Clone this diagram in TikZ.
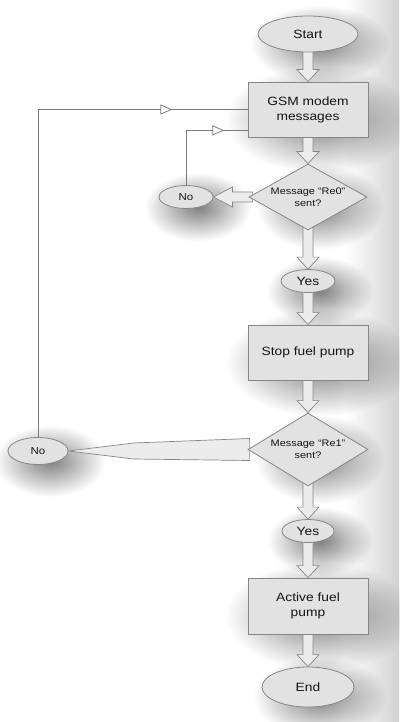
\documentclass[tikz,border=0pt]{standalone}
\usepackage{fontspec}
\setmainfont{Liberation Sans}
\newfontfamily\lab[FakeStretch=1.15]{Liberation Sans}
\usetikzlibrary{shapes.geometric,arrows.meta,calc,backgrounds,decorations.markings,fadings}
\definecolor{edge}{HTML}{868686}
\definecolor{boxfill}{HTML}{E2E2E2}
\definecolor{arrfill}{HTML}{ECECEC}
\definecolor{txt}{HTML}{151515}
\definecolor{conncol}{HTML}{7C7C7C}
\tikzfading[name=softglow, inner color=transparent!50, outer color=transparent!100]
\tikzset{
 shp/.style={draw=edge, fill=boxfill, line width=0.8pt, inner sep=0pt, text=txt,
   font=\lab\fontsize{12}{15}\selectfont, align=center},
 term/.style={shp, ellipse},
 proc/.style={shp, rectangle},
 dec/.style={shp, diamond, aspect=1.8, font=\lab\fontsize{9.5}{12.5}\selectfont},
 small/.style={font=\lab\fontsize{10}{12}\selectfont},
 barrow/.style={draw=edge, fill=arrfill, line width=0.7pt, line join=miter},
 conn/.style={draw=conncol, line width=0.9pt},
 glow/.style={fill=black, path fading=softglow},
 tri/.style={postaction={decorate}, decoration={markings,
   mark=at position #1 with {\arrow{Triangle[length=12pt,width=10pt,fill=white,color=conncol,line width=0.8pt]}}}},
}
\newcommand\dnarrow[2]{\draw[barrow] ($(#1.south)+(-5,-4)$) -- ($(#2.north)+(-5,-12)$) -- ($(#2.north)+(-11,-12)$) -- (#2.north) -- ($(#2.north)+(11,-12)$) -- ($(#2.north)+(5,-12)$) -- ($(#1.south)+(5,-4)$) -- cycle;}
\newcommand\glowof[1]{\fill[glow] ($(#1.north west)+(-22,-16)$) rectangle ($(#1.south east)+(46,36)$);}
\begin{document}
\begin{tikzpicture}[x=1pt,y=-1pt]
\useasboundingbox (0,0) rectangle (399,722);

\node[term, minimum width=100pt, minimum height=36pt] (start) at (308,34) {Start};
\node[proc, minimum width=120pt, minimum height=55pt] (gsm) at (308,109.5) {GSM modem\\messages};
\node[dec, minimum width=118pt, minimum height=66pt] (d1) at (308,197) {Message “Re0”\\sent?};
\node[term, small, minimum width=54pt, minimum height=23pt] (no1) at (186,197) {No};
\node[term, minimum width=54pt, minimum height=23pt] (yes1) at (308,281) {Yes};
\node[proc, minimum width=120pt, minimum height=55pt] (stop) at (308,352.5) {Stop fuel pump};
\node[dec, minimum width=120pt, minimum height=73pt] (d2) at (308,449.5) {Message “Re1”\\sent?};
\node[term, small, minimum width=60pt, minimum height=27pt] (no2) at (38,451) {No};
\node[term, minimum width=52pt, minimum height=23pt] (yes2) at (308,531) {Yes};
\node[proc, minimum width=120pt, minimum height=56pt] (act) at (308,606) {Active fuel\\pump};
\node[term, minimum width=92pt, minimum height=40pt] (end) at (308,687) {End};

\coordinate (g1) at ($(gsm.south west)+(0,-7)$);

\begin{scope}[on background layer]
\shade[left color=white, right color=gray!35] (345,0) rectangle (399,722);
\glowof{start}
\glowof{gsm}
\glowof{d1}
\glowof{no1}
\glowof{yes1}
\glowof{stop}
\glowof{d2}
\glowof{no2}
\glowof{yes2}
\glowof{act}
\glowof{end}
\dnarrow{start}{gsm}
\dnarrow{gsm}{d1}
\dnarrow{d1}{yes1}
\dnarrow{yes1}{stop}
\dnarrow{stop}{d2}
\dnarrow{d2}{yes2}
\dnarrow{yes2}{act}
\dnarrow{act}{end}
% d1 -> No1
\draw[barrow] (no1.east) -- ($(no1.east)+(19,-10)$) -- ($(no1.east)+(19,-5)$) -- ($(d1.west)+(4,-5)$) -- ($(d1.west)+(4,5)$) -- ($(no1.east)+(19,5)$) -- ($(no1.east)+(19,10)$) -- cycle;
% d2 -> No2
\draw[barrow] (no2.east) -- ($(no2.east)+(65,-8)$) -- ($(d2.west)+(2,-11)$) -- ($(d2.west)+(2,11)$) -- ($(no2.east)+(65,8)$) -- cycle;
\end{scope}

\draw[conn, tri=0.8] (no1.north) |- (g1);
\draw[conn, tri=0.86] (no2.north) |- (gsm.west);
\end{tikzpicture}
\end{document}
